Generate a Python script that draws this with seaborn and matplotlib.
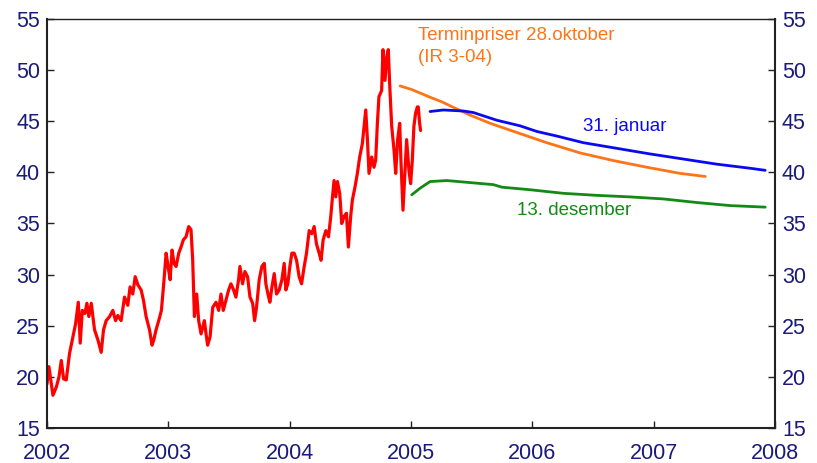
import numpy as np
import pandas as pd
import seaborn as sns
import matplotlib.pyplot as plt

# Brent-pris (USD per fat), lest av figuren. x = desimalår etter 2002
spot_t = [0.000, 0.016, 0.036, 0.049, 0.077, 0.099, 0.118, 0.137, 0.159, 0.186,
          0.214, 0.236, 0.258, 0.274, 0.291, 0.313, 0.329, 0.345, 0.365, 0.392,
          0.420, 0.447, 0.466, 0.488, 0.516, 0.543, 0.565, 0.584, 0.611, 0.639,
          0.666, 0.685, 0.707, 0.727, 0.749, 0.776, 0.795, 0.817, 0.845, 0.866,
          0.880, 0.899, 0.921, 0.943, 0.962, 0.982, 0.998, 1.015, 1.031, 1.047,
          1.064, 1.086, 1.105, 1.124, 1.146, 1.168, 1.187, 1.201, 1.215, 1.234,
          1.250, 1.270, 1.297, 1.311, 1.324, 1.344, 1.366, 1.393, 1.415, 1.434,
          1.453, 1.475, 1.497, 1.516, 1.538, 1.557, 1.579, 1.590, 1.612, 1.631,
          1.653, 1.673, 1.695, 1.711, 1.727, 1.749, 1.771, 1.791, 1.804, 1.821,
          1.837, 1.854, 1.873, 1.892, 1.914, 1.936, 1.955, 1.969, 1.985, 2.002,
          2.018, 2.037, 2.057, 2.078, 2.098, 2.120, 2.139, 2.161, 2.183, 2.202,
          2.221, 2.243, 2.259, 2.276, 2.298, 2.320, 2.339, 2.353, 2.366, 2.380,
          2.394, 2.413, 2.429, 2.449, 2.468, 2.484, 2.503, 2.517, 2.539, 2.558,
          2.577, 2.599, 2.613, 2.627, 2.641, 2.654, 2.676, 2.695, 2.709, 2.723,
          2.736, 2.758, 2.769, 2.786, 2.800, 2.813, 2.824, 2.841, 2.860, 2.874,
          2.890, 2.907, 2.917, 2.934, 2.950, 2.964, 2.983, 2.997, 3.011, 3.024,
          3.038, 3.052, 3.060, 3.071, 3.079]
spot_pris = [19.3, 21.0, 19.3, 18.2, 19.0, 20.0, 21.6, 19.8, 19.7, 22.3,
             23.9, 25.2, 27.3, 23.3, 26.5, 26.2, 27.2, 25.9, 27.2, 24.6,
             23.6, 22.4, 24.6, 25.5, 25.9, 26.5, 25.5, 26.0, 25.5, 27.8,
             27.0, 28.8, 28.1, 29.8, 29.0, 28.5, 27.5, 25.9, 24.6, 23.1,
             23.6, 24.6, 25.5, 26.5, 29.1, 32.1, 30.8, 29.5, 32.4, 31.1,
             30.8, 32.1, 32.7, 33.4, 33.7, 34.7, 34.4, 31.4, 25.9, 28.1,
             25.5, 24.2, 25.5, 24.2, 23.1, 23.9, 26.8, 27.3, 26.5, 28.1,
             26.5, 27.5, 28.5, 29.1, 28.5, 27.8, 29.5, 30.8, 29.1, 30.3,
             29.8, 27.8, 27.2, 25.5, 26.8, 29.5, 30.8, 31.1, 29.1, 28.1,
             27.3, 28.8, 30.1, 28.1, 28.5, 29.5, 31.1, 28.5, 29.1, 30.8,
             32.1, 32.1, 31.4, 29.8, 29.1, 30.8, 32.1, 34.3, 34.0, 34.7,
             33.0, 32.1, 31.4, 33.4, 34.3, 33.7, 35.7, 37.6, 39.2, 37.6,
             39.1, 37.9, 35.0, 35.7, 36.0, 32.7, 35.7, 37.3, 38.6, 39.9,
             41.5, 42.8, 44.5, 46.1, 43.2, 39.9, 41.5, 40.5, 41.2, 44.8,
             47.4, 48.0, 52.0, 49.0, 51.3, 52.0, 48.7, 44.5, 42.2, 39.9,
             43.2, 44.8, 41.2, 36.3, 39.9, 43.2, 40.2, 38.9, 41.2, 44.5,
             45.8, 46.4, 46.4, 44.8, 44.1]

# Terminpriser
okt_t = [2004.910, 2005.006, 2005.157, 2005.254, 2005.350, 2005.487, 2005.652,
         2005.872, 2006.119, 2006.394, 2006.669, 2006.944, 2007.218, 2007.425]
okt_pris = [48.45, 48.1, 47.35, 46.9, 46.35, 45.6, 44.8, 43.9, 42.9, 41.9,
            41.15, 40.5, 39.9, 39.6]

jan_t = [2005.157, 2005.267, 2005.432, 2005.514, 2005.707, 2005.899, 2006.037,
         2006.202, 2006.421, 2006.696, 2006.971, 2007.246, 2007.521, 2007.796,
         2007.919]
jan_pris = [45.95, 46.1, 46.0, 45.85, 45.1, 44.55, 44.0, 43.55, 42.9, 42.35,
            41.8, 41.3, 40.8, 40.4, 40.2]

des_t = [2005.006, 2005.075, 2005.157, 2005.295, 2005.487, 2005.679, 2005.749,
         2005.982, 2006.256, 2006.532, 2006.806, 2007.081, 2007.356, 2007.631,
         2007.919]
des_pris = [37.8, 38.45, 39.1, 39.2, 39.0, 38.8, 38.55, 38.3, 37.95, 37.75,
            37.6, 37.4, 37.05, 36.75, 36.6]

aar = [2002, 2003, 2004, 2005, 2006, 2007, 2008]
y_ticks = [15, 20, 25, 30, 35, 40, 45, 50, 55]

sns.set_style("white")
plt.rcParams['font.family'] = ['Liberation Sans', 'DejaVu Sans']

tick_farge = '#1a1a7a'

spot = pd.DataFrame({'t': 2002 + np.array(spot_t), 'pris': spot_pris})
okt = pd.DataFrame({'t': okt_t, 'pris': okt_pris})
jan = pd.DataFrame({'t': jan_t, 'pris': jan_pris})
des = pd.DataFrame({'t': des_t, 'pris': des_pris})

fig = plt.figure(figsize=(8.17, 4.63), dpi=100)
ax = fig.add_axes([0.0575, 0.0756, 0.8911, 0.8834])

sns.lineplot(data=spot, x='t', y='pris', color='#ff0000', linewidth=2.3, ax=ax)
sns.lineplot(data=okt, x='t', y='pris', color='#ff7417', linewidth=2.0, ax=ax)
sns.lineplot(data=jan, x='t', y='pris', color='#0a0af0', linewidth=2.0, ax=ax)
sns.lineplot(data=des, x='t', y='pris', color='#138a13', linewidth=2.0, ax=ax)

ax.set_xlim(2002, 2008)
ax.set_ylim(15, 55)
ax.set_xticks(aar)
ax.set_yticks(y_ticks)
ax.set_xlabel('')
ax.set_ylabel('')
ax.tick_params(axis='both', direction='in', length=5, width=1, labelsize=15.5,
               labelcolor=tick_farge, color='#222222', pad=5)
ax.tick_params(axis='y', left=True, right=True, labelleft=True, labelright=True)
ax.tick_params(axis='x', bottom=True, top=False, pad=11)
for s in ax.spines.values():
    s.set_color('#222222')
    s.set_linewidth(1.0)
ax.spines['left'].set_linewidth(1.5)
ax.spines['bottom'].set_linewidth(1.5)
ax.spines['right'].set_linewidth(1.5)

ax.text(2005.06, 53.4, 'Terminpriser 28.oktober', color='#ff7417', fontsize=13.5,
        va='center', ha='left')
ax.text(2005.06, 51.2, '(IR 3-04)', color='#ff7417', fontsize=13.5,
        va='center', ha='left')
ax.text(2006.42, 44.5, '31. januar', color='#0a0af0', fontsize=13.5,
        va='center', ha='left')
ax.text(2005.875, 36.3, '13. desember', color='#138a13', fontsize=13.5,
        va='center', ha='left')

fig.savefig('out.png', dpi=100)
